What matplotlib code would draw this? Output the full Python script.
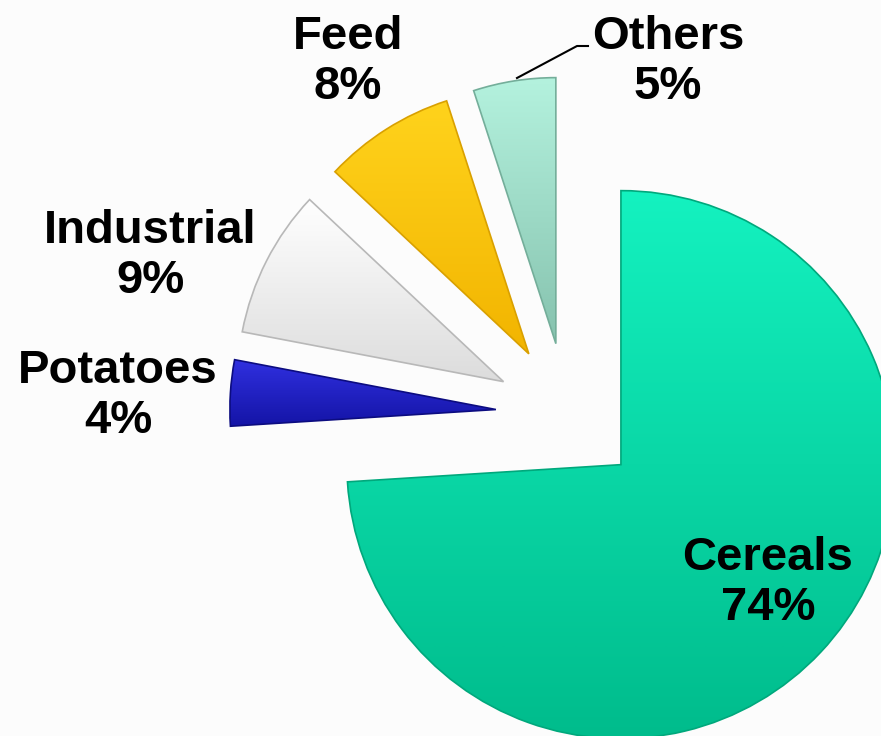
import matplotlib
matplotlib.use("Agg")
import matplotlib.pyplot as plt
import numpy as np
from matplotlib.colors import LinearSegmentedColormap

categories = ["Cereals", "Potatoes", "Industrial", "Feed", "Others"]
shares = [74, 4, 9, 8, 5]
pct_labels = ["74%", "4%", "9%", "8%", "5%"]

# light / dark shade of each slice (top -> bottom gradient)
light = ["#14f2c0", "#3030e0", "#ffffff", "#ffd31c", "#b4f2de"]
dark = ["#00bc8c", "#1414a6", "#dcdcdc", "#f2b400", "#86c2ae"]
edges = ["#00a87c", "#0c0c80", "#b8b8b8", "#d9a000", "#74ae9a"]

# label anchor positions (pixel layout)
label_pos = [(768, 583), (118, 396), (150, 256), (348, 62), (668, 62)]

W, H = 881, 736
fig = plt.figure(figsize=(W / 100, H / 100), dpi=100)
fig.patch.set_facecolor("#fcfcfc")
ax = fig.add_axes([0, 0, 1, 1])
ax.set_facecolor("#fcfcfc")

R = 274
R_small = 266
center = (567, H - 414)
# matplotlib applies explode in data units, so scale it by the radius
explode = [0.27 * R, 0.26 * R, 0.26 * R, 0.26 * R, 0.26 * R]
wedges, _ = ax.pie(shares, startangle=90, counterclock=False,
                   explode=explode, radius=R, center=center,
                   colors=light, frame=True,
                   wedgeprops=dict(linewidth=1.2))

for i, (w, lc, dc, ec) in enumerate(zip(wedges, light, dark, edges)):
    if i > 0:
        w.set_radius(R_small)
    w.set_edgecolor(ec)
    bb = w.get_path().get_extents(w.get_transform())
    # gradient image clipped to the wedge
    cmap = LinearSegmentedColormap.from_list("g", [dc, lc])
    grad = np.linspace(0, 1, 256).reshape(-1, 1)
    x0, y0, x1, y1 = ax.transData.inverted().transform(
        [[bb.x0, bb.y0], [bb.x1, bb.y1]]).ravel()
    im = ax.imshow(grad, cmap=cmap, origin="lower", aspect="auto",
                   extent=(x0, x1, y0, y1), zorder=w.get_zorder() + 0.1,
                   interpolation="bilinear")
    im.set_clip_path(w)
    w.set_zorder(w.get_zorder() + 0.2)
    w.set_facecolor("none")

for (x, y), name, pct in zip(label_pos, categories, pct_labels):
    ax.text(x, H - y, f"{name}\n{pct}", ha="center", va="center",
            fontsize=34, fontweight="bold", family="Liberation Sans",
            linespacing=1.15, color="black", zorder=10)

# leader line for Others
ax.plot([517, 577, 588], [H - 78, H - 46, H - 46], color="black",
        lw=1.5, zorder=9)

ax.set_xlim(0, W)
ax.set_ylim(0, H)
ax.set_aspect("equal")
ax.axis("off")

fig.savefig("out.png", dpi=100, facecolor=fig.get_facecolor())
